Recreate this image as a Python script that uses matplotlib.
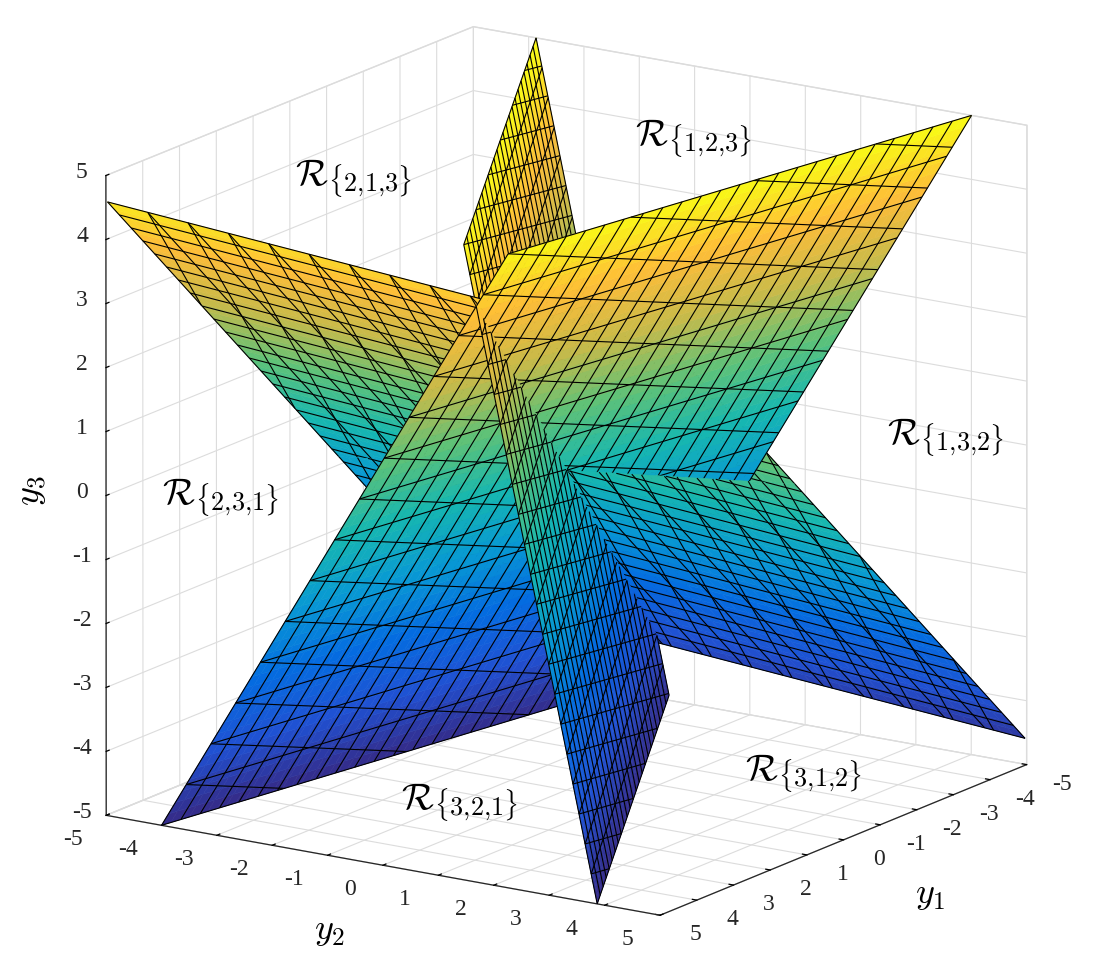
import numpy as np
import matplotlib
matplotlib.use('Agg')
import matplotlib.pyplot as plt
from matplotlib.colors import LinearSegmentedColormap
from mpl_toolkits.mplot3d.art3d import Poly3DCollection, Line3DCollection

plt.rcParams['font.family'] = ['Liberation Serif', 'DejaVu Serif']
plt.rcParams['mathtext.fontset'] = 'cm'
plt.rcParams['axes.unicode_minus'] = False
plt.rcParams['grid.color'] = '#dcdcdc'
plt.rcParams['grid.linewidth'] = 0.8

ticks = [-5, -4, -3, -2, -1, 0, 1, 2, 3, 4, 5]
region_names = ['1{,}2{,}3', '2{,}1{,}3', '1{,}3{,}2', '2{,}3{,}1', '3{,}1{,}2', '3{,}2{,}1']
region_px = [(635, 138), (295, 178), (887, 437), (162, 497), (745, 773), (401, 802)]

# corners of the three planes, the other two are the negatives
plane1_a = [5.0, -4.0, -5.0]
plane1_b = [5.0, 2.26, 4.9]
plane2_a = [4.956, -5.0, 4.578]
plane2_b = [4.67, 5.0, 3.77]
plane3_a = [5.0, 3.866, -5.0]
plane3_b = [5.0, 1.46, 4.92]
# where the planes meet, as a fraction along the edge a-b
meet1 = 0.909
meet2 = 0.653
meet3 = 0.909

parula = [(.208, .166, .529), (.125, .317, .825), (.017, .423, .880), (.031, .600, .830),
          (.090, .720, .690), (.370, .760, .470), (.780, .730, .290), (.996, .740, .220),
          (.976, .984, .080)]
cmap = LinearSegmentedColormap.from_list('parula', parula)


def clip_poly(poly, g):
    out = []
    for i in range(len(poly)):
        p, q = poly[i], poly[(i + 1) % len(poly)]
        gp, gq = g(p), g(q)
        if gp >= 0:
            out.append(p)
        if gp * gq < 0:
            s = gp / (gp - gq)
            out.append((p[0] + s * (q[0] - p[0]), p[1] + s * (q[1] - p[1])))
    return out


def clip_seg(p, q, g):
    gp, gq = g(p), g(q)
    if gp < 0 and gq < 0:
        return None
    if gp * gq < 0:
        s = gp / (gp - gq)
        m = (p[0] + s * (q[0] - p[0]), p[1] + s * (q[1] - p[1]))
        return (p, m) if gp > 0 else (m, q)
    return p, q


def draw_wing(ax, a, b, n_u, n_v, spine0, spine1, corner, z):
    P = np.array(a, float)
    R = np.array(b, float)
    Q = -R
    du, dv = Q - P, R - P
    to3d = lambda uv: P + uv[0] * du + uv[1] * dv
    sx, sy = spine1[0] - spine0[0], spine1[1] - spine0[1]
    sign = np.sign(sx * (corner[1] - spine0[1]) - sy * (corner[0] - spine0[0]))
    g = lambda uv: sign * (sx * (uv[1] - spine0[1]) - sy * (uv[0] - spine0[0]))

    # colour cells
    n = 50
    verts, cols = [], []
    for i in range(n):
        for j in range(n):
            cell = [(i / n, j / n), ((i + 1) / n, j / n), ((i + 1) / n, (j + 1) / n), (i / n, (j + 1) / n)]
            cell = clip_poly(cell, g)
            if len(cell) < 3:
                continue
            v3 = np.array([to3d(c) for c in cell])
            verts.append(v3)
            cols.append(cmap((v3[:, 2].mean() + 5) / 10))
    ax.add_collection3d(Poly3DCollection(verts, facecolors=cols, edgecolors=cols, linewidths=0.4, zorder=z), autolim=False)

    # mesh lines, three families
    segs = []
    for i in range(n_u + 1):
        segs.append(((i / n_u, 0), (i / n_u, 1)))
    for j in range(n_v + 1):
        segs.append(((0, j / n_v), (1, j / n_v)))
    r = -0.27
    for c in np.arange(0, 1 - r + 1e-6, 1 / n_v):
        u0, u1 = 0.0, 1.0
        if c > 1:
            u0 = (1 - c) / r
        if c + r < 0:
            u1 = -c / r
        segs.append(((u0, c + r * u0), (u1, c + r * u1)))
    lines = []
    for p, q in segs:
        s = clip_seg(p, q, g)
        if s is not None:
            lines.append([to3d(s[0]), to3d(s[1])])
    ax.add_collection3d(Line3DCollection(lines, colors='black', linewidths=0.8, zorder=z + 0.5), autolim=False)


fig = plt.figure(figsize=(11, 9.7), dpi=100)
ax = fig.add_axes([-7 / 1100, -74.9 / 970, 1117 / 1100, 1117 / 970], projection='3d')
ax.computed_zorder = False
ax.set_box_aspect((1, 1, 1))
ax.view_init(15.689, 33.536)
ax.set_proj_type('persp', focal_length=40)
ax.set_xlim(-5, 5)
ax.set_ylim(-5, 5)
ax.set_zlim(-5, 5)
ax.set_xticks(ticks)
ax.set_yticks(ticks)
ax.set_zticks(ticks)
ax.set_xticklabels([])
ax.set_yticklabels([])
ax.set_zticklabels([])
for axis in (ax.xaxis, ax.yaxis, ax.zaxis):
    axis.set_pane_color((1, 1, 1, 1))
    axis.pane.set_edgecolor('#dcdcdc')
    axis.line.set_color('#262626')
    axis.line.set_linewidth(0.9)
    axis._axinfo['tick']['inward_factor'] = 0.0
    axis._axinfo['tick']['outward_factor'] = 0.1
    axis._axinfo['tick']['linewidth'] = {True: 0.9, False: 0.5}

# tick labels sit lower than mplot3d would put them
for t in ticks:
    ax.text(t, 5.64, -5.19, str(t), fontsize=17, color='#262626', ha='center', va='center')
    ax.text(5.9, t, -5.15, str(t), fontsize=17, color='#262626', ha='center', va='center')
    ax.text(5.65, -5, t + 0.21, str(t), fontsize=17, color='#262626', ha='center', va='center')

sp1 = ((0, meet1), (1, 1 - meet1))
sp2 = ((meet2, 0), (1 - meet2, 1))
sp3 = ((0, meet3), (1, 1 - meet3))
# back to front, the wings do not cross each other so the order is fixed
draw_wing(ax, plane3_a, plane3_b, 24, 22, sp3[0], sp3[1], (1, 1), 1)
draw_wing(ax, plane2_a, plane2_b, 30, 14, sp2[0], sp2[1], (0, 0), 2)
draw_wing(ax, plane1_a, plane1_b, 24, 14, sp1[0], sp1[1], (1, 1), 3)
draw_wing(ax, plane2_a, plane2_b, 30, 14, sp2[0], sp2[1], (1, 1), 4)
draw_wing(ax, plane1_a, plane1_b, 24, 14, sp1[0], sp1[1], (0, 0), 5)
draw_wing(ax, plane3_a, plane3_b, 24, 22, sp3[0], sp3[1], (0, 0), 6)

for name, (x, y) in zip(region_names, region_px):
    fig.text(x / 1100, 1 - y / 970, r'$\mathcal{R}_{\{' + name + r'\}}$', fontsize=27, ha='left', va='center')
fig.text(930 / 1100, 1 - 896 / 970, r'$y_1$', fontsize=26, ha='center', va='center')
fig.text(330 / 1100, 1 - 932 / 970, r'$y_2$', fontsize=26, ha='center', va='center')
fig.text(32 / 1100, 1 - 490 / 970, r'$y_3$', fontsize=26, ha='center', va='center', rotation=90)

fig.savefig('out.png', dpi=100)
